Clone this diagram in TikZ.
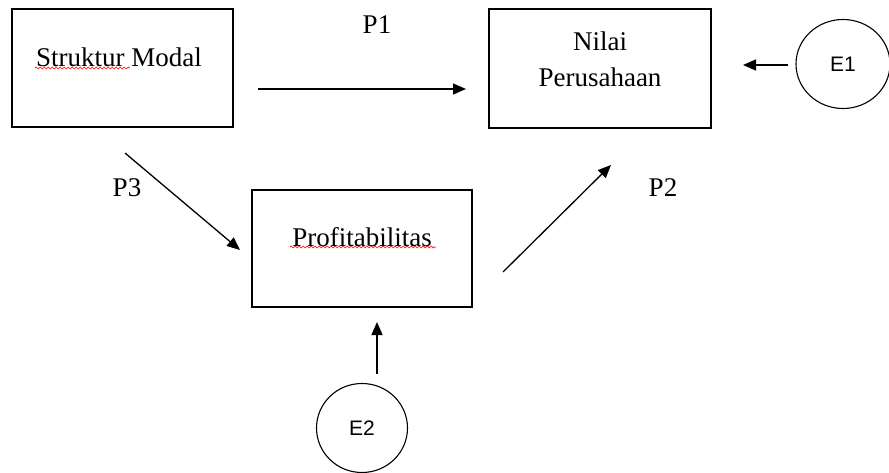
\documentclass[tikz,border=0pt]{standalone}
\usepackage{fontspec}
\setmainfont{Liberation Serif}
\newfontfamily\esans{Liberation Sans}
\usetikzlibrary{arrows.meta,shapes.geometric,decorations.pathmorphing}
\begin{document}
\begin{tikzpicture}[x=1pt,y=-1pt,
  boxnode/.style={draw,line width=1.4pt,rectangle,inner sep=0pt},
  errnode/.style={draw,line width=1.1pt,ellipse,inner sep=0pt,font=\esans\fontsize{21}{25}\selectfont},
  txt/.style={font=\fontsize{27}{36}\selectfont,inner sep=0pt},
  lbl/.style={font=\fontsize{27}{32}\selectfont,inner sep=0pt},
  conn/.style={line width=1.3pt,-{Triangle[length=13pt,width=11pt]}},
  squig/.style={red,line width=0.7pt,decorate,decoration={snake,amplitude=1pt,segment length=4pt}}]
\useasboundingbox (0,0) rectangle (889,473);
% boxes
\node[boxnode,minimum width=221pt,minimum height=118pt] (sm) at (122.5,68) {};
\node[boxnode,minimum width=222pt,minimum height=119pt] (np) at (600,68.5) {};
\node[boxnode,minimum width=220pt,minimum height=117pt] (pr) at (362,248.5) {};
\node[errnode,minimum width=94pt,minimum height=89pt] (e1) at (843,64) {E1};
\node[errnode,minimum width=91pt,minimum height=89pt] (e2) at (362,428) {E2};
% box texts
\node[txt] (smt) at (119,57) {Struktur Modal};
\node[txt,align=center] (npt) at (600,59) {Nilai\\Perusahaan};
\node[txt] (prt) at (362,237) {Profitabilitas};
% spell-check squiggles
\draw[squig] (35,68) -- (130,68);
\draw[squig] (290,247) -- (436,247);
% labels
\node[lbl] (p1) at (377,25) {P1};
\node[lbl] (p3) at (127,188) {P3};
\node[lbl] (p2) at (663,188) {P2};
% connector endpoints
\coordinate (p1s) at (258,89);
\coordinate (p1e) at (466,89);
\coordinate (e1s) at (788,65);
\coordinate (e1e) at (743,65);
\coordinate (p3s) at (125,153);
\coordinate (p3e) at (240,250);
\coordinate (p2s) at (503,272);
\coordinate (p2e) at (611,165);
\coordinate (e2s) at (377,374);
\coordinate (e2e) at (377,322);
\draw[conn] (p1s) -- (p1e);
\draw[conn] (e1s) -- (e1e);
\draw[conn] (p3s) -- (p3e);
\draw[conn] (p2s) -- (p2e);
\draw[conn] (e2s) -- (e2e);
\end{tikzpicture}
\end{document}
